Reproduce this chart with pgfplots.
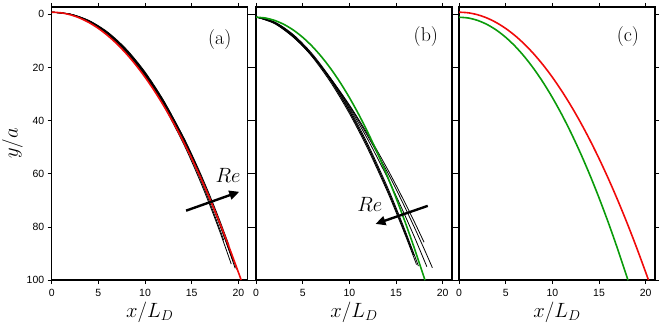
\documentclass[border=0pt]{standalone}
\usepackage{fontspec}
\usepackage{pgfplots}
\pgfplotsset{compat=1.18}
\usetikzlibrary{arrows.meta}
\newfontfamily\ticksf{Liberation Sans}
\definecolor{curvred}{RGB}{240,10,10}
\definecolor{curvgreen}{RGB}{10,155,10}

\tikzset{rearrow/.style={-{Triangle[length=10bp,width=9bp]}, line width=2.4pt, black}}
\pgfplotsset{
  panel/.style={
    scale only axis, width=196bp, height=273bp, anchor=south west,
    xmin=0, xmax=21, ymin=-2.75, ymax=100, y dir=reverse,
    xtick={0,5,10,15,20}, ytick={0,20,40,60,80,100},
    xtick pos=both, ytick pos=both,
    tick align=outside, major tick length=4bp,
    tick style={line width=0.7pt, black},
    axis line style={line width=1.3pt},
    tick label style={font=\ticksf\fontsize{10.5}{11}\selectfont},
    xticklabel style={yshift=-2bp},
    /pgf/number format/assume math mode=true,
    xlabel={$x/L_D$},
    label style={font=\fontsize{21}{23}\selectfont},
    xlabel style={yshift=1.5bp},
  },
  blk/.style={black, line width=0.8pt, smooth},
  redc/.style={curvred, line width=1.6pt, smooth},
  grnc/.style={curvgreen, line width=1.6pt, smooth},
}

\begin{document}
\begin{tikzpicture}
\path[use as bounding box] (0,0) rectangle (664bp,330bp);

% ---------- (a)
\begin{axis}[panel, at={(51.7bp,50bp)}, ylabel={$y/a$}, ylabel style={yshift=-3bp}]
\addplot[blk] coordinates {(0,-0.8) (2,-0.04) (4,2.50) (6,6.99) (8,13.53) (10,22.2) (12,33.05) (14,46.14) (15,53.54) (16,61.50) (17,70.04) (18,79.16) (19,88.88) (19.66,95.6)};
\addplot[blk] coordinates {(0,-0.8) (2,0.03) (4,2.69) (6,7.32) (8,13.98) (10,22.7) (12,33.54) (14,46.52) (15,53.82) (16,61.66) (17,70.05) (18,79.01) (19,88.51) (19.45,93.0)};
\addplot[blk] coordinates {(0,-0.8) (2,-0.09) (4,2.34) (6,6.70) (8,13.13) (10,21.7) (12,32.50) (14,45.59) (15,53.00) (16,61.01) (17,69.60) (18,78.82) (19,88.64) (19.13,90.0)};
\addplot[blk] coordinates {(0,-0.8) (2,0.08) (4,2.84) (6,7.55) (8,14.26) (10,23.0) (12,33.78) (14,46.64) (15,53.85) (16,61.58) (17,69.83) (18,78.61) (19,87.93) (19.82,96.0)};
\addplot[blk] coordinates {(0,-0.8) (2,-0.02) (4,2.53) (6,7.00) (8,13.47) (10,22.0) (12,32.63) (14,45.42) (15,52.63) (16,60.38) (17,68.68) (18,77.55) (19.00,87.0)};
\addplot[blk] coordinates {(0,-0.8) (2,-0.06) (4,2.46) (6,6.98) (8,13.59) (10,22.4) (12,33.47) (14,46.87) (15,54.45) (16,62.63) (17,71.42) (18,80.82) (18.43,85.0)};
\addplot[blk] coordinates {(0,-0.8) (2,0.02) (4,2.70) (6,7.41) (8,14.22) (10,23.2) (12,34.39) (14,47.86) (15,55.44) (16,63.60) (17,72.34) (18,81.67) (19,91.6) (19.23,94.0)};
\addplot[redc] coordinates {(0,-0.8) (1,-0.56) (2,0.18) (3,1.40) (4,3.12) (5,5.32) (6,8.01) (7,11.19) (8,14.86) (9,19.02) (10,23.67) (11,28.81) (12,34.44) (13,40.55) (14,47.16) (15,54.26) (16,61.84) (17,69.92) (18,78.48) (19,87.54) (20,97.08) (20.3,100)};
\draw[rearrow] (axis cs:14.4,73.9) -- (axis cs:20.1,66.8);
\node[font=\fontsize{20}{22}\selectfont] at (axis cs:18.9,60.8) {$Re$};
\node[font=\fontsize{20}{22}\selectfont] at (axis cs:18.0,9.5) {(a)};
\end{axis}

% ---------- (b)
\begin{axis}[panel, at={(256bp,50bp)}, yticklabels={}]
\addplot[blk] coordinates {(0,1) (2,3.43) (4,8.51) (6,15.55) (8,24.25) (10,34.45) (12,46.02) (14,58.88) (15,65.76) (16,72.96) (17,80.42) (18,88.18) (18.9,95.4)};
\addplot[blk] coordinates {(0,1) (2,3.28) (4,8.30) (6,15.43) (8,24.40) (10,35.05) (12,47.25) (14,60.91) (15,68.28) (16,76.0) (17,84.03) (18,92.41) (18.3,94.97)};
\addplot[blk] coordinates {(0,1) (2,3.52) (4,8.64) (6,15.61) (8,24.15) (10,34.09) (12,45.30) (14,57.69) (15,64.30) (16,71.20) (17,78.34) (18,85.75)};
\addplot[blk] coordinates {(0,1) (2,3.01) (4,7.91) (6,15.21) (8,24.72) (10,36.28) (12,49.81) (14,65.22) (15,73.61) (16,82.46) (16.6,87.97)};
\addplot[blk] coordinates {(0,1) (2,3.21) (4,8.37) (6,15.91) (8,25.60) (10,37.27) (12,50.81) (14,66.13) (15,74.45) (16,83.18) (17,92.32) (17.2,94.2)};
\addplot[blk] coordinates {(0,1) (2,2.91) (4,7.65) (6,14.79) (8,24.14) (10,35.59) (12,49.02) (14,64.37) (15,72.76) (16,81.61) (17,90.89) (17.4,94.75)};
\addplot[blk] coordinates {(0,1) (2,3.10) (4,8.10) (6,15.48) (8,25.03) (10,36.60) (12,50.06) (14,65.35) (15,73.66) (16,82.40) (16.9,90.6)};
\addplot[grnc] coordinates {(0,1.1) (1,1.40) (2,2.31) (3,3.82) (4,5.93) (5,8.65) (6,11.97) (7,15.90) (8,20.43) (9,25.56) (10,31.30) (11,37.64) (12,44.59) (13,52.14) (14,60.29) (15,69.05) (16,78.41) (17,88.38) (18,98.95) (18.1,100)};
\draw[rearrow] (axis cs:18.4,72.1) -- (axis cs:12.8,78.9);
\node[font=\fontsize{20}{22}\selectfont] at (axis cs:12.2,71.5) {$Re$};
\node[font=\fontsize{20}{22}\selectfont] at (axis cs:18.2,8.2) {(b)};
\end{axis}

% ---------- (c)
\begin{axis}[panel, at={(459bp,50bp)}, yticklabels={}]
\addplot[redc] coordinates {(0,-0.8) (1,-0.56) (2,0.18) (3,1.40) (4,3.12) (5,5.32) (6,8.01) (7,11.19) (8,14.86) (9,19.02) (10,23.67) (11,28.81) (12,34.44) (13,40.55) (14,47.16) (15,54.26) (16,61.84) (17,69.92) (18,78.48) (19,87.54) (20,97.08) (20.3,100)};
\addplot[grnc] coordinates {(0,1.1) (1,1.40) (2,2.31) (3,3.82) (4,5.93) (5,8.65) (6,11.97) (7,15.90) (8,20.43) (9,25.56) (10,31.30) (11,37.64) (12,44.59) (13,52.14) (14,60.29) (15,69.05) (16,78.41) (17,88.38) (18,98.95) (18.1,100)};
\node[font=\fontsize{20}{22}\selectfont] at (axis cs:18.1,8.5) {(c)};
\end{axis}
\end{tikzpicture}
\end{document}
